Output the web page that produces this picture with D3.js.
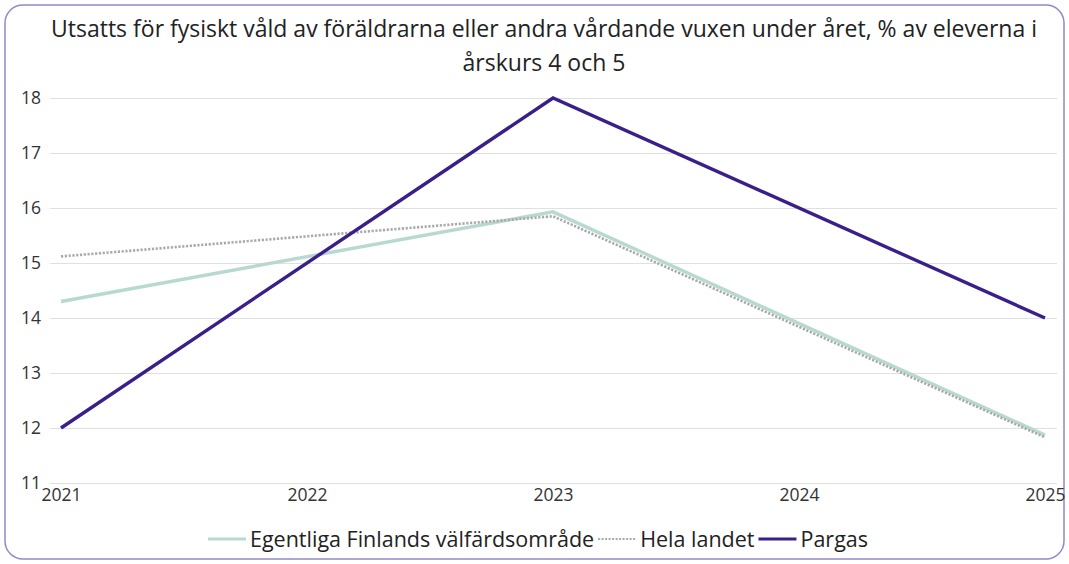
<!DOCTYPE html>
<html><head><meta charset="utf-8">
<script src="https://cdn.jsdelivr.net/npm/d3@7"></script>
<style>body{margin:0;background:#fff;font-family:"Open Sans","Noto Sans",sans-serif;}</style>
</head><body>
<svg id="c" width="1069" height="564"></svg>
<script>
const years = [2021, 2022, 2023, 2024, 2025];
const egentliga = [14.3, null, 15.93, null, 11.87];
const helaLandet = [15.12, null, 15.85, null, 11.83];
const pargas = [12, null, 18, null, 14];
const yTicks = [11, 12, 13, 14, 15, 16, 17, 18];
const seriesNames = ["Egentliga Finlands välfärdsområde", "Hela landet", "Pargas"];
const titleLines = ["Utsatts för fysiskt våld av föräldrarna eller andra vårdande vuxen under året, % av eleverna i", "årskurs 4 och 5"];

const svg = d3.select("#c");
svg.append("rect").attr("x",5).attr("y",5).attr("width",1059).attr("height",554)
  .attr("rx",18).attr("fill","#fff").attr("stroke","#9488c8").attr("stroke-width",1.5);

const x = d3.scaleLinear().domain([2021,2025]).range([61,1045]);
const y = d3.scaleLinear().domain([11,18]).range([483,98]);

svg.selectAll(".title").data(titleLines).enter().append("text")
  .attr("x",544).attr("y",(d,i)=>37+i*34).attr("text-anchor","middle")
  .attr("font-size",23).attr("fill","#222").text(d=>d);

const gy = svg.append("g").attr("transform","translate(50,0)")
  .call(d3.axisLeft(y).tickValues(yTicks).tickSize(-1007).tickFormat(d3.format("d")));
gy.select(".domain").remove();
gy.selectAll(".tick line").attr("stroke","#e0e0e0").attr("stroke-width",1.2);
gy.selectAll(".tick text").attr("x",-9).attr("dy","0.3em").attr("font-size",17.5).attr("fill","#333")
  .attr("font-family","Open Sans, Noto Sans, sans-serif");

const gx = svg.append("g").attr("transform","translate(0,483)")
  .call(d3.axisBottom(x).tickValues(years).tickSize(0).tickFormat(d3.format("d")));
gx.select(".domain").remove();
gx.selectAll(".tick text").attr("y",6).attr("dy","0.71em").attr("font-size",17.5).attr("fill","#333")
  .attr("font-family","Open Sans, Noto Sans, sans-serif");

const styles = [
  {vals: egentliga, color:"#b7d9d1", w:3.4, dash:null},
  {vals: helaLandet, color:"#a9a9a9", w:2.6, dash:"2.2,1.6"},
  {vals: pargas, color:"#3a1f8a", w:3.4, dash:null}
];
const line = d3.line().x(d=>x(d.year)).y(d=>y(d.v));
styles.forEach(s=>{
  const pts = years.map((yr,i)=>({year:yr,v:s.vals[i]})).filter(d=>d.v!=null);
  svg.append("path").datum(pts).attr("d",line).attr("fill","none")
    .attr("stroke",s.color).attr("stroke-width",s.w).attr("stroke-dasharray",s.dash);
});

// legend
const legend = svg.append("g");
let lx = 0;
seriesNames.forEach((n,i)=>{
  const g = legend.append("g").attr("transform",`translate(${lx},0)`);
  g.append("line").attr("x1",0).attr("x2",38).attr("y1",0).attr("y2",0)
    .attr("stroke",styles[i].color).attr("stroke-width",i==1?2:3).attr("stroke-dasharray",i==1?"2,1.5":null);
  const t = g.append("text").attr("x",42).attr("y",0).attr("dy","0.35em").attr("font-size",21.5).attr("fill","#222").text(n);
  lx += 42 + t.node().getComputedTextLength() + 4;
});
legend.attr("transform",`translate(${538 - (lx-4)/2},539)`);
</script>
</body></html>
